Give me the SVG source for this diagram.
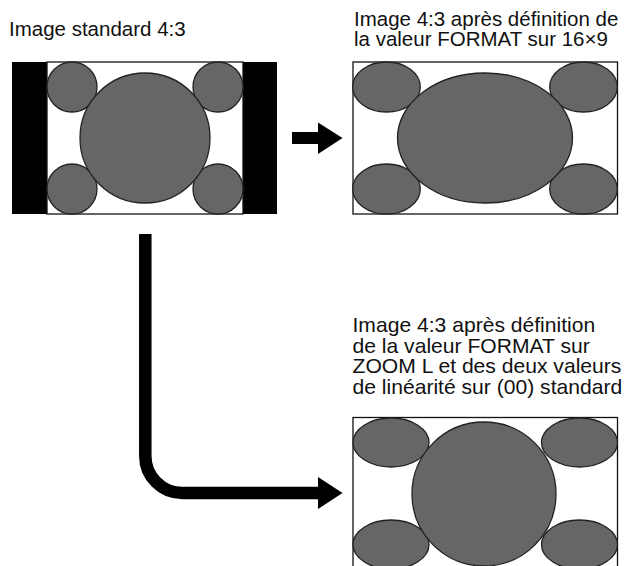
<svg xmlns="http://www.w3.org/2000/svg" width="628" height="566" viewBox="0 0 628 566">
<style>
.t{font-family:"Liberation Sans",Arial,sans-serif;font-size:20.5px;fill:#111}
.t2{font-size:21.1px}
.frame{fill:#fff;stroke:#111;stroke-width:1.3}
.blob{fill:#666;stroke:#222;stroke-width:1.3}
.arrow{fill:#000}
.shaft{fill:none;stroke:#000;stroke-width:12.5}
</style>
<rect width="628" height="566" fill="#fff"/>
<g id="node-standard">
<text class="t" x="9" y="35.5">Image standard 4:3</text>
<rect x="12" y="62" width="265" height="152" fill="#000"/>
<rect class="frame" x="47" y="62" width="196" height="152"/>
<circle class="blob" cx="72" cy="87" r="25"/>
<circle class="blob" cx="218" cy="87" r="25"/>
<circle class="blob" cx="72" cy="189" r="25"/>
<circle class="blob" cx="218" cy="189" r="25"/>
<circle class="blob" cx="145" cy="138" r="65"/>
</g>
<g id="node-16x9">
<text class="t" x="354" y="26">Image 4:3 après définition de</text>
<text class="t" x="354" y="45.5">la valeur FORMAT sur 16×9</text>
<rect class="frame" x="353" y="62" width="264.5" height="152"/>
<ellipse class="blob" cx="386.5" cy="87" rx="33.8" ry="25"/>
<ellipse class="blob" cx="583.5" cy="87" rx="33.8" ry="25"/>
<ellipse class="blob" cx="386.5" cy="189" rx="33.8" ry="25"/>
<ellipse class="blob" cx="583.5" cy="189" rx="33.8" ry="25"/>
<ellipse class="blob" cx="485" cy="138" rx="87.5" ry="65"/>
</g>
<g id="node-zoom">
<text class="t t2" x="352.5" y="332">Image 4:3 après définition</text>
<text class="t t2" x="352.5" y="352.5">de la valeur FORMAT sur</text>
<text class="t t2" x="352.5" y="373">ZOOM L et des deux valeurs</text>
<text class="t t2" x="352.5" y="393.5">de linéarité sur (00) standard</text>
<rect class="frame" x="353" y="417.5" width="264.5" height="152"/>
<ellipse class="blob" cx="391" cy="442.5" rx="38" ry="24.5"/>
<ellipse class="blob" cx="579.5" cy="442.5" rx="38" ry="24.5"/>
<ellipse class="blob" cx="391" cy="544.5" rx="38" ry="24.5"/>
<ellipse class="blob" cx="579.5" cy="544.5" rx="38" ry="24.5"/>
<circle class="blob" cx="484" cy="494" r="72"/>
</g>
<g id="connectors">
<rect class="arrow" x="292" y="132" width="27" height="12"/>
<polygon class="arrow" points="318,122.5 342.5,138 318,154"/>
<path class="shaft" d="M145.3,234 V456 A37,37 0 0 0 182.3,493 H320"/>
<polygon class="arrow" points="318,477 342.5,493 318,509"/>
</g>
</svg>
